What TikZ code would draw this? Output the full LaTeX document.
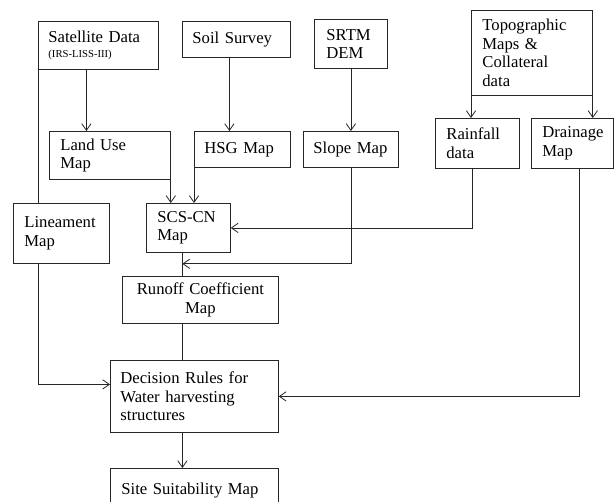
\documentclass[tikz,border=0pt]{standalone}
\usepackage{fontspec}
\setmainfont{Liberation Serif}
\usetikzlibrary{arrows.meta}
\newcommand{\boxfont}{\fontsize{12.5}{14}\selectfont}

\begin{document}
\begin{tikzpicture}[x=0.75pt, y=-0.75pt,
    >={Straight Barb[length=5pt,width=7pt]},
    blk/.style={draw=black!85, line width=0.6pt, anchor=north west,
      align=left, inner ysep=0pt, inner xsep=7.5pt, font=\boxfont},
    link/.style={draw=black!85, line width=0.6pt}]
  \useasboundingbox (0,0) rectangle (615,501);

  % Eingangsdaten (oben)
  \node[blk, text width=75pt, minimum height=36pt] (sat) at (38,21)
    {Satellite Data\\[-3pt]{\fontsize{8}{9}\selectfont (IRS-LISS-III)}};
  \node[blk, text width=66pt, minimum height=27pt] (soil) at (182,21) {Soil Survey};
  \node[blk, inner xsep=9pt, text width=36.75pt, minimum height=36.75pt] (srtm) at (314,19) {SRTM\\DEM};
  \node[blk, inner xsep=8.25pt, text width=74.25pt, minimum height=63.75pt] (topo) at (471,10)
    {Topographic\\Maps \&\\Collateral\\data};

  % Thematische Karten
  \node[blk, inner xsep=8.25pt, text width=74.25pt, minimum height=36pt] (land) at (49,131) {Land Use\\Map};
  \node[blk, text width=57pt, minimum height=27pt] (hsg) at (194,131) {HSG Map};
  \node[blk, text width=56.25pt, minimum height=27pt] (slope) at (303,131) {Slope Map};
  \node[blk, inner xsep=8.25pt, text width=46.5pt, minimum height=37.5pt] (rain) at (435,118) {Rainfall\\data};
  \node[blk, inner xsep=8.25pt, text width=45pt, minimum height=37.5pt] (drain) at (531,118) {Drainage\\Map};
  \node[blk, inner xsep=8.25pt, text width=55.5pt, minimum height=45pt] (line) at (13,203) {Lineament\\Map};
  \node[blk, inner xsep=8.25pt, text width=46.5pt, minimum height=36.75pt] (scs) at (146,203) {SCS-CN\\Map};

  % Auswertung
  \node[blk, align=center, text width=102pt, minimum height=35.25pt] (runoff) at (122,276)
    {Runoff Coefficient\\Map};
  \node[blk, text width=111pt, minimum height=54pt] (rules) at (110,360)
    {Decision Rules for\\Water harvesting\\structures};
  \node[blk, inner xsep=8.25pt, text width=109.5pt, minimum height=33pt] (site) at (110,468)
    {Site Suitability Map};

  % Hilfspunkte auf der Mittelachse
  \coordinate (spine) at ([xshift=-4.5pt]scs.south);
  \coordinate (join) at ([yshift=-8.25pt]spine);

  % Verbindungen
  \draw[link] (sat.south west) -- (sat.south west |- line.north);
  \draw[link, ->] ([xshift=-9pt]sat.south) -- ([xshift=-9pt]sat.south |- land.north);
  \draw[link, ->] ([xshift=-5.25pt]soil.south) -- ([xshift=-5.25pt]soil.south |- hsg.north);
  \draw[link, ->] (srtm.south) -- (srtm.south |- slope.north);
  \draw[link, ->] (topo.south west) -- (topo.south west |- rain.north);
  \draw[link, ->] (topo.south east) -- (topo.south east |- drain.north);
  \draw[link, ->] (land.south east) -- (land.south east |- scs.north);
  \draw[link, ->] (hsg.south west) -- (hsg.south west |- scs.north);
  \draw[link, ->] ([xshift=-3.75pt]rain.south) |- (scs.east);
  \draw[link, ->] (slope.south) |- (join);
  \draw[link] (spine) -- (spine |- runoff.north);
  \draw[link] (spine |- runoff.south) -- (spine |- rules.north);
  \draw[link, ->] (sat.south west |- line.south) |- ([yshift=9pt]rules.west);
  \draw[link, ->] ([xshift=5.25pt]drain.south) |- (rules.east);
  \draw[link, ->] (spine |- rules.south) -- (spine |- site.north);
\end{tikzpicture}
\end{document}
